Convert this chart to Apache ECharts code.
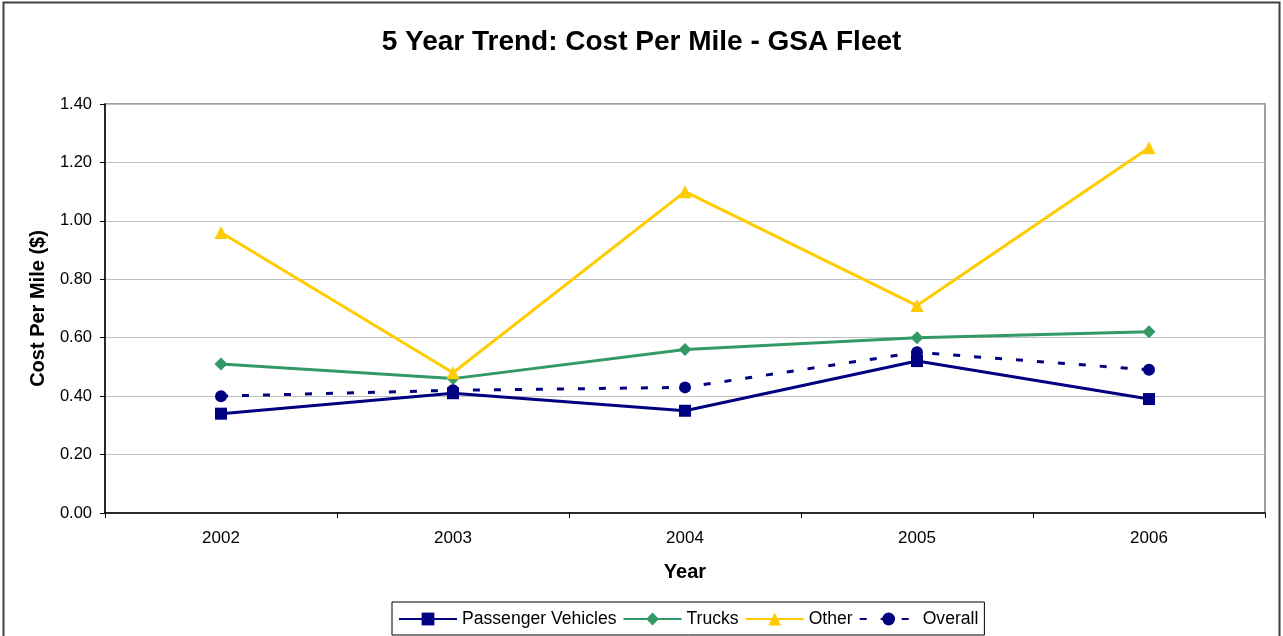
<!DOCTYPE html>
<html>
<head>
<meta charset="utf-8">
<script src="https://cdn.jsdelivr.net/npm/echarts@6/dist/echarts.min.js"></script>
<style>
    html, body { margin: 0; padding: 0; background: #fff; }
    #chart { width: 1283px; height: 636px; }
</style>
</head>
<body>
<div id="chart"></div>
<script>
    // data
    var years = ['2002', '2003', '2004', '2005', '2006'];
    var passengerVehicles = [0.34, 0.41, 0.35, 0.52, 0.39];
    var trucks = [0.51, 0.46, 0.56, 0.60, 0.62];
    var other = [0.96, 0.48, 1.10, 0.71, 1.25];
    var overall = [0.40, 0.42, 0.43, 0.55, 0.49];

    var font = 'Arial, "Liberation Sans", sans-serif';

    var myChart = echarts.init(document.getElementById('chart'));

    var option = {
        backgroundColor: '#fff',
        animation: false,
        title: {
            text: '5 Year Trend: Cost Per Mile - GSA Fleet',
            left: 'center',
            top: 23,
            textStyle: { fontFamily: font, fontSize: 28, fontWeight: 'bold', color: '#000' }
        },
        graphic: [
            {   // outer chart frame
                type: 'rect',
                shape: { x: 3.5, y: 2.5, width: 1276, height: 640 },
                style: { fill: 'none', stroke: '#404040', lineWidth: 2 },
                silent: true
            }
        ],
        legend: {
            top: 602,
            left: 392,
            itemWidth: 58,
            itemHeight: 16,
            itemGap: 6,
            padding: [8, 6, 7, 6],
            borderColor: '#000',
            borderWidth: 1,
            textStyle: { fontFamily: font, fontSize: 17.6, color: '#000' },
            data: ['Passenger Vehicles', 'Trucks', 'Other', 'Overall']
        },
        grid: {
            left: 105,
            right: 18,
            top: 104,
            bottom: 123,
            show: true,
            borderColor: '#808080',
            borderWidth: 1.5
        },
        xAxis: {
            type: 'category',
            data: years,
            boundaryGap: true,
            name: 'Year',
            nameLocation: 'middle',
            nameGap: 49,
            nameTextStyle: { fontFamily: font, fontSize: 20, fontWeight: 'bold', color: '#000' },
            axisLine: { lineStyle: { color: '#000', width: 1.5 } },
            axisTick: { show: true, length: 5, alignWithLabel: false, lineStyle: { color: '#000' } },
            axisLabel: { fontFamily: font, fontSize: 17, color: '#000', margin: 17 },
            splitLine: { show: false }
        },
        yAxis: {
            type: 'value',
            min: 0,
            max: 1.4,
            interval: 0.2,
            name: 'Cost Per Mile ($)',
            nameLocation: 'middle',
            nameGap: 57,
            nameTextStyle: { fontFamily: font, fontSize: 20, fontWeight: 'bold', color: '#000' },
            axisLine: { show: true, lineStyle: { color: '#000', width: 1.5 } },
            axisTick: { show: true, length: 5, lineStyle: { color: '#000' } },
            axisLabel: {
                fontFamily: font, fontSize: 16.5, color: '#000', margin: 13,
                formatter: function (v) { return v.toFixed(2); }
            },
            splitLine: { show: true, lineStyle: { color: '#c0c0c0', width: 1 } }
        },
        series: [
            {
                name: 'Passenger Vehicles',
                type: 'line',
                data: passengerVehicles,
                symbol: 'rect',
                symbolSize: 12,
                color: '#000080',
                lineStyle: { width: 3, color: '#000080' }
            },
            {
                name: 'Trucks',
                type: 'line',
                data: trucks,
                symbol: 'diamond',
                symbolSize: 13,
                color: '#339966',
                lineStyle: { width: 3, color: '#339966' }
            },
            {
                name: 'Other',
                type: 'line',
                data: other,
                symbol: 'triangle',
                symbolSize: 13,
                color: '#FFCC00',
                lineStyle: { width: 3, color: '#FFCC00' }
            },
            {
                name: 'Overall',
                type: 'line',
                data: overall,
                symbol: 'circle',
                symbolSize: 12,
                color: '#000080',
                lineStyle: { width: 3, color: '#000080', type: [7, 14] }
            }
        ]
    };

    myChart.setOption(option);
</script>
</body>
</html>
